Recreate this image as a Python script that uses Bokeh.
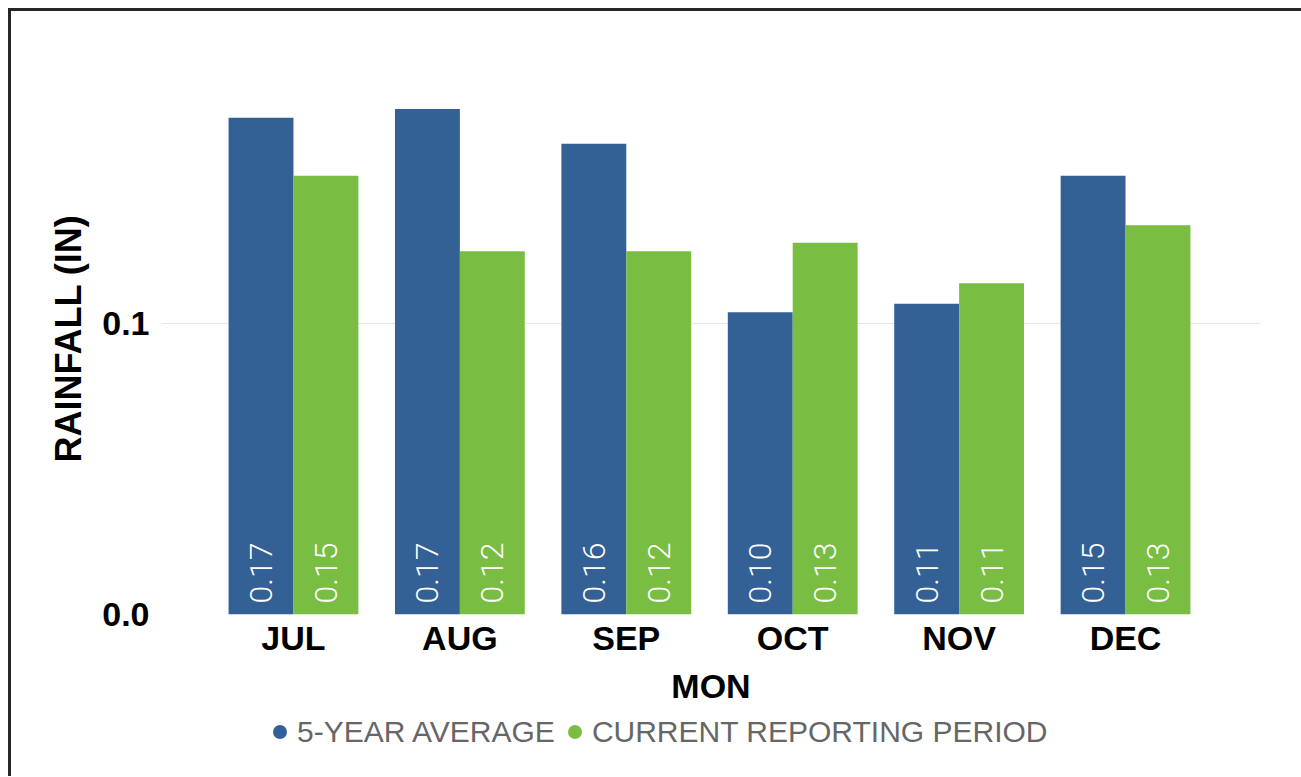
import numpy as np
from bokeh.plotting import figure
from bokeh.layouts import column
from bokeh.models import (ColumnDataSource, FixedTicker, Range1d, Legend,
                          LegendItem, LabelSet)
from bokeh.transform import dodge
from bokeh.core.properties import value
from bokeh.embed import file_html
from bokeh.resources import INLINE

# ---- data ----
months = ["JUL", "AUG", "SEP", "OCT", "NOV", "DEC"]
avg_5yr = [0.171, 0.174, 0.162, 0.104, 0.107, 0.151]
current = [0.151, 0.125, 0.125, 0.128, 0.114, 0.134]
y_ticks = [0.0, 0.1]
series_names = ["5-YEAR AVERAGE", "CURRENT REPORTING PERIOD"]
x_title = "MON"
y_title = "RAINFALL (IN)"

BLUE = "#336095"
GREEN = "#7abd43"
FONT = "Liberation Sans"

idx = list(range(len(months)))
src = ColumnDataSource(dict(
    idx=idx,
    avg=avg_5yr,
    cur=current,
    avg_lbl=[f"{v:.2f}" for v in avg_5yr],
    cur_lbl=[f"{v:.2f}" for v in current],
    zero=[0.0] * len(months),
))

p = figure(width=1290, height=700,
           x_range=Range1d(-0.793, 5.811), y_range=Range1d(0, 0.19),
           output_backend="svg", toolbar_location=None,
           min_border_left=150, min_border_right=41,
           min_border_top=51, min_border_bottom=97)
p.outline_line_color = None
p.background_fill_color = "white"
p.border_fill_color = "white"

half = 0.195
bw = 0.39
r_avg = p.vbar(x=dodge("idx", -half), top="avg", width=bw, source=src,
               fill_color=BLUE, line_color=None)
r_cur = p.vbar(x=dodge("idx", half), top="cur", width=bw, source=src,
               fill_color=GREEN, line_color=None)

for off, col in ((-half, "avg_lbl"), (half, "cur_lbl")):
    p.add_layout(LabelSet(x=dodge("idx", off), y="zero", text=col, source=src,
                          angle=np.pi / 2, text_align="left",
                          text_baseline="middle", y_offset=11,
                          text_color="white", text_font_size="32px",
                          text_font=value("Roboto Light")))

# axes
p.xaxis.ticker = FixedTicker(ticks=idx)
p.xaxis.major_label_overrides = {i: m for i, m in zip(idx, months)}
p.yaxis.ticker = FixedTicker(ticks=y_ticks)
p.yaxis.major_label_overrides = {t: f"{t:.1f}" for t in y_ticks}
for ax in (p.xaxis, p.yaxis):
    ax.axis_line_color = None
    ax.major_tick_line_color = None
    ax.minor_tick_line_color = None
    ax.major_label_text_font = FONT
    ax.major_label_text_font_style = "bold"
    ax.major_label_text_font_size = "34px"
    ax.major_label_text_color = "black"
    ax.axis_label_text_font = FONT
    ax.axis_label_text_font_style = "bold"
    ax.axis_label_text_font_size = "34px"
    ax.axis_label_text_color = "black"
p.yaxis.axis_label_text_font_size = "36px"
p.xaxis.axis_label = x_title
p.yaxis.axis_label = y_title
p.xaxis.major_label_standoff = -2
p.xaxis.axis_label_standoff = 7
p.yaxis.major_label_standoff = 6
p.yaxis.axis_label_standoff = 10

p.xgrid.grid_line_color = None
p.ygrid.ticker = FixedTicker(ticks=y_ticks)
p.ygrid.grid_line_color = "#e6e6e6"
p.ygrid.grid_line_width = 1

# legend strip, centred under the whole chart
lg = figure(width=1290, height=65, x_range=Range1d(0, 1), y_range=Range1d(0, 1),
            output_backend="svg", toolbar_location=None,
            min_border_left=0, min_border_right=0,
            min_border_top=0, min_border_bottom=0)
lg.axis.visible = False
lg.grid.visible = False
lg.outline_line_color = None
lg.border_fill_color = "white"
d1 = lg.scatter(x=[np.nan], y=[np.nan], marker="circle", size=14,
                fill_color=BLUE, line_color=None)
d2 = lg.scatter(x=[np.nan], y=[np.nan], marker="circle", size=14,
                fill_color=GREEN, line_color=None)
legend = Legend(items=[LegendItem(label=series_names[0], renderers=[d1]),
                       LegendItem(label=series_names[1], renderers=[d2])],
                orientation="horizontal", location=(101, 27),
                glyph_width=35, glyph_height=35, label_standoff=-15,
                spacing=2, padding=0, margin=0,
                label_text_font=FONT, label_text_font_size="30px",
                label_text_color="#666666",
                border_line_color=None, background_fill_alpha=0)
lg.add_layout(legend, "center")

layout = column(p, lg, spacing=0)
layout.styles = {"margin-left": "8px", "margin-top": "8px",
                 "border-left": "3px solid #262626", "border-top": "3px solid #262626"}

open("out.html", "w").write(file_html(layout, INLINE))
